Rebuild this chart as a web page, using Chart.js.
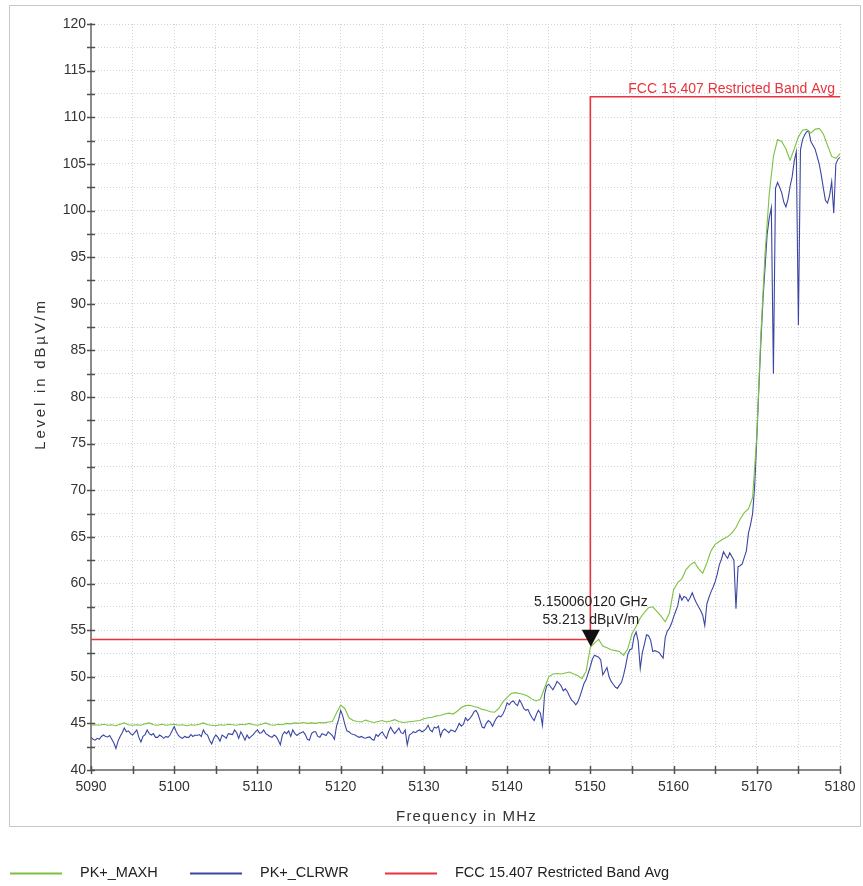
<!DOCTYPE html>
<html>
<head>
<meta charset="utf-8">
<title>Restricted band edge – 5150 MHz</title>
<script src="https://cdn.jsdelivr.net/npm/chart.js@4.4.1/dist/chart.umd.min.js"></script>
<style>
  html, body { margin: 0; padding: 0; background: #ffffff; overflow: hidden; }
  #wrap { width: 863px; height: 886px; }
</style>
</head>
<body>
<div id="wrap"><canvas id="chart" width="863" height="886"></canvas></div>
<script>
// ---- sweep data -----------------------------------------------------------
const FREQ_START_MHZ = 5090;
const MAXH_STEP_MHZ = 0.5;
const CLRWR_STEP_MHZ = 0.25;

// PK+_MAXH trace, dBµV/m, one value every 0.5 MHz from 5090 MHz
const maxhLevels = [
  44.8, 44.85, 44.8, 44.9, 44.8, 44.85, 44.75, 44.9, 45.05, 44.85,
  44.8, 44.85, 44.8, 44.95, 45.05, 44.85, 44.8, 44.9, 44.8, 44.85,
  44.9, 44.8, 44.85, 44.75, 44.85, 44.8, 44.9, 45.05, 44.85, 44.8,
  44.75, 44.85, 44.8, 44.9, 44.85, 44.8, 44.9, 44.85, 45.0, 44.85,
  44.8, 44.9, 45.05, 44.85, 44.8, 44.9, 44.85, 45.0, 44.95, 45.05,
  45.0, 45.1, 45.0, 45.05, 45.0, 45.1, 45.05, 45.15, 45.2, 46.1,
  46.95, 46.6, 45.6, 45.3, 45.2, 45.15, 45.35, 45.2, 45.1, 45.2,
  45.3, 45.15, 45.25, 45.4, 45.2, 45.1, 45.15, 45.2, 45.25, 45.3,
  45.5, 45.6, 45.65, 45.8, 45.85, 46.0, 46.1, 46.0, 46.3, 46.7,
  46.9, 46.95, 46.8, 46.7, 46.5, 46.4, 46.25, 46.2, 46.6, 47.3,
  47.8, 48.2, 48.3, 48.2, 48.1, 47.9, 47.6, 47.4, 47.6, 48.8,
  50.0, 50.3, 50.35, 50.3, 50.4, 50.5, 50.3, 50.1, 49.8, 50.6,
  53.15, 53.6, 54.0, 53.3, 53.1, 52.9, 52.8, 52.7, 52.3, 53.0,
  54.6, 55.4, 56.3, 56.9, 57.4, 57.5, 57.0, 56.5, 55.9, 56.8,
  59.3, 60.1, 60.5, 61.5, 62.0, 62.3, 61.6, 61.1, 62.2, 63.5,
  64.2, 64.5, 64.8, 65.0, 65.4, 66.0, 66.9, 67.6, 68.0, 69.2,
  75.8, 86.8, 95.5, 101.8, 105.8, 107.6, 107.4, 106.6, 105.4, 106.6,
  107.9, 108.6, 108.7, 108.3, 108.7, 108.8, 108.2, 107.0, 105.8, 105.6,
  106.1
];

// PK+_CLRWR trace, dBµV/m, one value every 0.25 MHz from 5090 MHz
const clrwrLevels = [
  43.5, 43.3, 43.2, 43.4, 43.3, 43.6, 43.75, 43.6, 43.55, 43.7, 43.3, 42.9, 42.3, 43.1, 43.6, 44.0, 44.5, 44.1, 44.2, 43.9,
  43.75, 44.0, 44.3, 43.5, 43.0, 43.6, 43.8, 44.3, 43.9, 43.75, 43.9, 43.5, 43.5, 43.75, 43.6, 43.4, 43.6, 43.5, 43.75, 44.2,
  44.65, 44.1, 43.7, 43.5, 43.4, 43.6, 43.5, 43.5, 43.8, 43.6, 43.75, 43.7, 43.8, 43.6, 44.3, 43.9, 43.75, 43.2, 42.8, 43.4,
  43.75, 43.5, 43.1, 43.75, 43.6, 43.4, 43.9, 43.85, 43.8, 44.3, 44.0, 43.4, 44.1, 43.7, 43.2, 43.75, 43.4, 43.6, 43.8, 44.1,
  44.3, 43.95, 44.0, 44.3, 43.9, 43.75, 43.6, 43.5, 43.75, 43.6, 43.2, 42.7, 43.75, 44.1, 43.9, 44.2, 43.6, 44.3, 43.9, 43.7,
  43.9, 44.0, 44.1, 43.8, 43.3, 43.2, 43.9, 44.1, 44.1, 43.6, 43.5, 43.9, 43.8, 43.7, 44.1, 43.9, 43.7, 43.3, 44.7, 45.4,
  46.4, 45.8, 44.9, 44.2, 44.1, 43.9, 43.8, 43.75, 43.6, 43.5, 43.6, 43.45, 43.4, 43.5, 43.55, 43.3, 43.2, 43.8, 43.6, 43.9,
  44.1, 43.7, 43.4, 44.1, 44.6, 44.2, 43.9, 44.2, 44.5, 44.0, 43.9, 44.3, 42.7, 43.75, 43.9, 44.1, 44.0, 44.2, 44.3, 44.1,
  44.2, 44.4, 44.8, 44.3, 44.1, 44.6, 44.5, 44.7, 43.6, 44.2, 44.4, 44.2, 44.0, 44.3, 44.2, 44.1, 44.5, 45.0, 44.7, 44.9,
  45.6, 45.3, 45.5, 45.8, 46.2, 46.4, 46.0, 45.3, 44.6, 44.5, 45.0, 45.3, 45.1, 44.7, 45.2, 45.6, 45.8, 45.7, 46.0, 46.5,
  47.2, 47.0, 47.3, 47.4, 47.1, 46.9, 47.5, 47.1, 46.6, 46.4, 46.5, 46.0, 45.6, 45.3, 45.9, 46.4, 46.1, 44.8, 48.1, 49.0,
  49.2, 48.9, 48.6, 49.0, 49.5, 49.3, 49.0, 48.5, 48.7, 48.4, 47.9, 47.5, 47.3, 47.0, 47.3, 47.9, 48.6, 49.3, 49.7, 50.4,
  51.1, 51.9, 52.3, 52.2, 52.1, 51.8, 50.2, 50.6, 51.0, 50.0, 49.5, 49.2, 48.9, 48.75, 49.1, 49.4, 50.2, 51.2, 52.4, 52.9,
  53.0, 54.3, 54.8, 53.8, 50.9, 52.6, 53.5, 54.5, 54.4, 53.9, 52.7, 52.8, 52.7, 52.6, 52.3, 52.0, 54.2, 54.9, 55.2, 55.7,
  56.4, 57.0, 57.6, 58.8, 58.2, 58.6, 58.5, 58.1, 58.5, 59.0, 58.4, 57.9, 57.5, 57.1, 56.6, 55.5, 57.8, 58.5, 59.1, 59.6,
  60.2, 61.0, 62.0, 62.6, 63.4, 63.0, 62.7, 63.3, 62.9, 62.5, 57.3, 61.8, 61.9, 62.1, 62.8, 63.5, 65.4, 66.3, 67.5, 70.5,
  75.5, 81.0, 86.1, 90.5, 94.0, 97.5, 99.2, 100.3, 82.5, 102.4, 103.0, 102.5, 101.9, 100.9, 100.4, 101.2, 102.6, 103.6, 105.3, 106.3,
  87.7, 106.5, 107.6, 108.1, 108.45, 108.5, 107.4, 107.0, 106.6, 105.8, 105.0, 103.8, 102.4, 101.1, 100.8, 101.6, 103.1, 99.7, 105.0, 105.5,
  105.7
];

// FCC 15.407 restricted band average limit (corner points)
const limitFreqs = [5090, 5150, 5150, 5180];
const limitLevels = [54, 54, 112.2, 112.2];

// Marker on the MAXH trace
const markerFreqMHz = 5150.06012;
const markerLevel = 53.213;

// Axis ranges and labelled ticks
const freqRange = [5090, 5180];
const levelRange = [40, 120];
const freqTickLabels = [5090, 5100, 5110, 5120, 5130, 5140, 5150, 5160, 5170, 5180];
const levelTickLabels = [40, 45, 50, 55, 60, 65, 70, 75, 80, 85, 90, 95, 100, 105, 110, 115, 120];

const seriesNames = ['PK+_MAXH', 'PK+_CLRWR', 'FCC 15.407 Restricted Band Avg'];

// ---- styling ---------------------------------------------------------------
const FONT = '"Liberation Sans", Arial, Helvetica, sans-serif';
const GREEN = '#7cc242';
const BLUE = '#3b46a3';
const RED = '#e8333c';
const TEXT = '#333333';
const LEGEND_X = [10, 190, 385];

function toPoints(start, step, levels) {
  return levels.map((v, i) => ({ x: start + i * step, y: v }));
}
function pairPoints(xs, ys) {
  return xs.map((x, i) => ({ x: x, y: ys[i] }));
}

// frame, tick marks, axis titles, marker and legend
const decorations = {
  id: 'decorations',
  beforeDraw(chart) {
    const ctx = chart.ctx;
    ctx.save();
    ctx.fillStyle = '#ffffff';
    ctx.fillRect(0, 0, chart.width, chart.height);
    ctx.strokeStyle = '#c8c8c8';
    ctx.lineWidth = 1;
    ctx.strokeRect(9.5, 5.5, 851, 821);
    ctx.restore();
  },
  afterDatasetsDraw(chart) {
    const ctx = chart.ctx;
    const xs = chart.scales.x, ys = chart.scales.y;
    // limit label
    const limY = ys.getPixelForValue(limitLevels[limitLevels.length - 1]);
    ctx.save();
    ctx.font = '14px ' + FONT;
    ctx.fillStyle = RED;
    ctx.textAlign = 'right';
    ctx.textBaseline = 'alphabetic';
    ctx.fillText(seriesNames[2], xs.right - 5, limY - 4);
    ctx.restore();

    // marker triangle and readout
    const mx = xs.getPixelForValue(markerFreqMHz);
    const my = ys.getPixelForValue(markerLevel);
    ctx.save();
    ctx.fillStyle = '#111111';
    ctx.beginPath();
    ctx.moveTo(mx, my);
    ctx.lineTo(mx - 9, my - 17);
    ctx.lineTo(mx + 9, my - 17);
    ctx.closePath();
    ctx.fill();
    ctx.font = '14px ' + FONT;
    ctx.fillStyle = '#222222';
    ctx.textAlign = 'center';
    ctx.textBaseline = 'middle';
    ctx.fillText((markerFreqMHz / 1000).toFixed(9) + ' GHz', mx, my - 45);
    ctx.fillText(markerLevel.toFixed(3) + ' dBµV/m', mx, my - 27);
    ctx.restore();
  },
  afterDraw(chart) {
    const ctx = chart.ctx;
    const xs = chart.scales.x, ys = chart.scales.y;
    const area = chart.chartArea;
    ctx.save();
    // tick marks crossing the axes
    ctx.strokeStyle = '#505050';
    ctx.lineWidth = 1.5;
    ctx.beginPath();
    xs.ticks.forEach(t => {
      const px = Math.round(xs.getPixelForValue(t.value)) + 0.5;
      ctx.moveTo(px, area.bottom - 4);
      ctx.lineTo(px, area.bottom + 4);
    });
    ys.ticks.forEach(t => {
      const py = Math.round(ys.getPixelForValue(t.value)) + 0.5;
      ctx.moveTo(area.left - 4, py);
      ctx.lineTo(area.left + 4, py);
    });
    ctx.stroke();

    // axis titles
    ctx.fillStyle = TEXT;
    ctx.font = '15px ' + FONT;
    ctx.textAlign = 'center';
    ctx.textBaseline = 'middle';
    if ('letterSpacing' in ctx) ctx.letterSpacing = '1.2px';
    ctx.fillText('Frequency in MHz', (area.left + area.right) / 2 + 1, 817);
    if ('letterSpacing' in ctx) ctx.letterSpacing = '2.8px';
    ctx.save();
    ctx.translate(41, 374);
    ctx.rotate(-Math.PI / 2);
    ctx.fillText('Level in dBµV/m', 0, 0);
    ctx.restore();
    if ('letterSpacing' in ctx) ctx.letterSpacing = '0px';

    // legend
    ctx.font = '14.5px ' + FONT;
    ctx.textAlign = 'left';
    ctx.textBaseline = 'middle';
    const ly = 873;
    chart.data.datasets.forEach((ds, i) => {
      const x = LEGEND_X[i];
      ctx.strokeStyle = ds.borderColor;
      ctx.lineWidth = 2;
      ctx.beginPath();
      ctx.moveTo(x, ly + 0.5);
      ctx.lineTo(x + 52, ly + 0.5);
      ctx.stroke();
      ctx.fillStyle = '#222222';
      ctx.fillText(ds.label, x + 70, ly);
    });
    ctx.restore();
  }
};

// keep the plot rectangle fixed: no extra room reserved for edge labels
function fixHorizontal(scale) {
  scale.height = 56;
  scale.paddingLeft = 0;
  scale.paddingRight = 0;
}
function fixVertical(scale) {
  scale.width = 91;
  scale.paddingTop = 0;
  scale.paddingBottom = 0;
}

const chart = new Chart(document.getElementById('chart'), {
  type: 'line',
  data: {
    datasets: [
      {
        label: seriesNames[0],
        data: toPoints(FREQ_START_MHZ, MAXH_STEP_MHZ, maxhLevels),
        borderColor: GREEN, borderWidth: 1.1,
        pointRadius: 0, tension: 0, fill: false
      },
      {
        label: seriesNames[1],
        data: toPoints(FREQ_START_MHZ, CLRWR_STEP_MHZ, clrwrLevels),
        borderColor: BLUE, borderWidth: 1.1,
        pointRadius: 0, tension: 0, fill: false
      },
      {
        label: seriesNames[2],
        data: pairPoints(limitFreqs, limitLevels),
        borderColor: RED, borderWidth: 1.6,
        pointRadius: 0, tension: 0, fill: false
      }
    ]
  },
  options: {
    responsive: false,
    animation: false,
    devicePixelRatio: 1,
    layout: { padding: { left: 0, top: 24, right: 23, bottom: 60 } },
    plugins: {
      legend: { display: false },
      tooltip: { enabled: false },
      title: { display: false }
    },
    scales: {
      x: {
        type: 'linear',
        min: freqRange[0], max: freqRange[1],
        afterFit: fixHorizontal,
        ticks: {
          stepSize: 5,
          autoSkip: false,
          maxRotation: 0,
          padding: 9,
          color: TEXT,
          font: { family: FONT, size: 14 },
          callback: v => freqTickLabels.includes(v) ? String(v) : ''
        },
        grid: { color: '#d3d3d3', lineWidth: 1, drawTicks: false },
        border: { display: true, color: '#8a8a8a', width: 2, dash: [1, 2] }
      },
      y: {
        type: 'linear',
        min: levelRange[0], max: levelRange[1],
        afterFit: fixVertical,
        ticks: {
          stepSize: 2.5,
          autoSkip: false,
          padding: 5,
          color: TEXT,
          font: { family: FONT, size: 14 },
          callback: v => levelTickLabels.includes(v) ? String(v) : ''
        },
        grid: { color: '#d3d3d3', lineWidth: 1, drawTicks: false },
        border: { display: true, color: '#8a8a8a', width: 2, dash: [1, 2] }
      }
    }
  },
  plugins: [decorations]
});
</script>
</body>
</html>
